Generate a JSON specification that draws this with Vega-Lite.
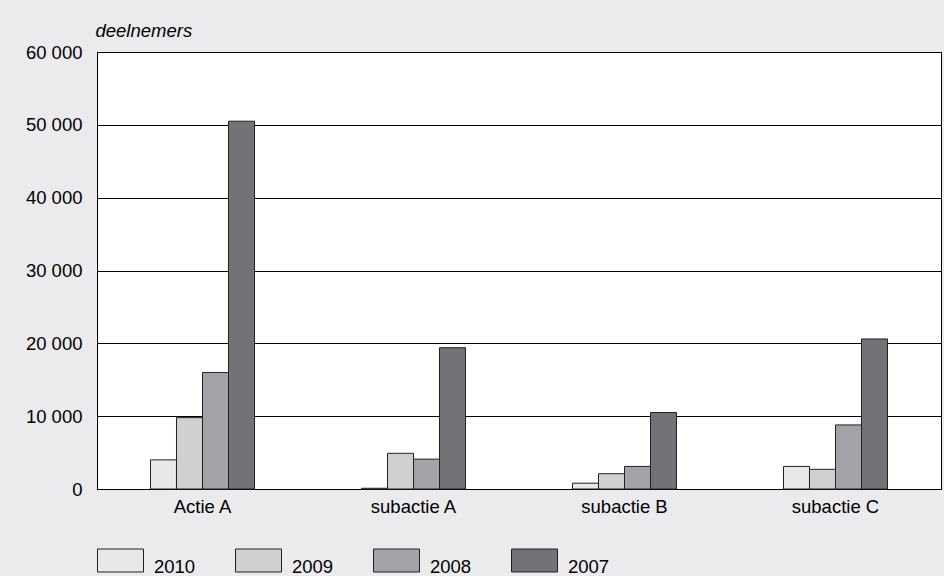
{
  "$schema": "https://vega.github.io/schema/vega-lite/v6.json",
  "autosize": "none",
  "width": 844,
  "height": 437,
  "padding": {"left": 97, "top": 52, "right": 3, "bottom": 87},
  "background": "#ebebed",
  "config": {
    "font": "Liberation Sans",
    "view": {"fill": "white", "stroke": "black", "strokeWidth": 1}
  },
  "data": {
    "values": [
      {"actie": "Actie A", "jaar": "2010", "deelnemers": 4000},
      {"actie": "Actie A", "jaar": "2009", "deelnemers": 9800},
      {"actie": "Actie A", "jaar": "2008", "deelnemers": 16000},
      {"actie": "Actie A", "jaar": "2007", "deelnemers": 50500},
      {"actie": "subactie A", "jaar": "2010", "deelnemers": 100},
      {"actie": "subactie A", "jaar": "2009", "deelnemers": 4900},
      {"actie": "subactie A", "jaar": "2008", "deelnemers": 4100},
      {"actie": "subactie A", "jaar": "2007", "deelnemers": 19400},
      {"actie": "subactie B", "jaar": "2010", "deelnemers": 800},
      {"actie": "subactie B", "jaar": "2009", "deelnemers": 2100},
      {"actie": "subactie B", "jaar": "2008", "deelnemers": 3100},
      {"actie": "subactie B", "jaar": "2007", "deelnemers": 10500},
      {"actie": "subactie C", "jaar": "2010", "deelnemers": 3100},
      {"actie": "subactie C", "jaar": "2009", "deelnemers": 2700},
      {"actie": "subactie C", "jaar": "2008", "deelnemers": 8800},
      {"actie": "subactie C", "jaar": "2007", "deelnemers": 20600}
    ]
  },
  "mark": {"type": "bar", "stroke": "#222222", "strokeWidth": 1},
  "encoding": {
    "x": {
      "field": "actie",
      "type": "nominal",
      "sort": null,
      "scale": {"paddingInner": 0.507, "paddingOuter": 0.2535},
      "axis": {
        "title": null,
        "labelAngle": 0,
        "ticks": false,
        "tickSize": 0,
        "labelPadding": 8,
        "labelFontSize": 18.5,
        "labelColor": "black",
        "domainColor": "black"
      }
    },
    "xOffset": {
      "field": "jaar",
      "type": "nominal",
      "sort": ["2010", "2009", "2008", "2007"],
      "scale": {"paddingInner": 0, "paddingOuter": 0}
    },
    "y": {
      "field": "deelnemers",
      "type": "quantitative",
      "scale": {"domain": [0, 60000], "nice": false},
      "axis": {
        "values": [0, 10000, 20000, 30000, 40000, 50000, 60000],
        "labelExpr": "replace(format(datum.value, ',d'), ',', ' ')",
        "title": "deelnemers",
        "titleAngle": 0,
        "titleAlign": "left",
        "titleBaseline": "middle",
        "titleX": -2,
        "titleY": -22,
        "titleFontStyle": "italic",
        "titleFontWeight": "normal",
        "titleFontSize": 18.5,
        "titleColor": "black",
        "ticks": false,
        "tickSize": 0,
        "labelPadding": 15,
        "labelFontSize": 18.5,
        "labelColor": "black",
        "domainColor": "black",
        "grid": true,
        "gridColor": "black",
        "gridOpacity": 1,
        "gridWidth": 1
      }
    },
    "fill": {
      "field": "jaar",
      "type": "nominal",
      "sort": ["2010", "2009", "2008", "2007"],
      "scale": {
        "domain": ["2010", "2009", "2008", "2007"],
        "range": ["#e8e8ea", "#d0d0d2", "#a3a2a6", "#747277"]
      },
      "legend": {
        "title": null,
        "orient": "none",
        "direction": "horizontal",
        "legendX": 0,
        "legendY": 485,
        "symbolType": "M-1,-0.5H1V0.5H-1Z",
        "symbolSize": 2116,
        "symbolStrokeColor": "#222222",
        "symbolStrokeWidth": 1,
        "symbolOpacity": 1,
        "labelFontSize": 18.5,
        "labelColor": "black",
        "labelBaseline": "middle",
        "labelOffset": 10,
        "columnPadding": 37,
        "encode": {"labels": {"update": {"dy": {"value": 6}}}}
      }
    }
  }
}
